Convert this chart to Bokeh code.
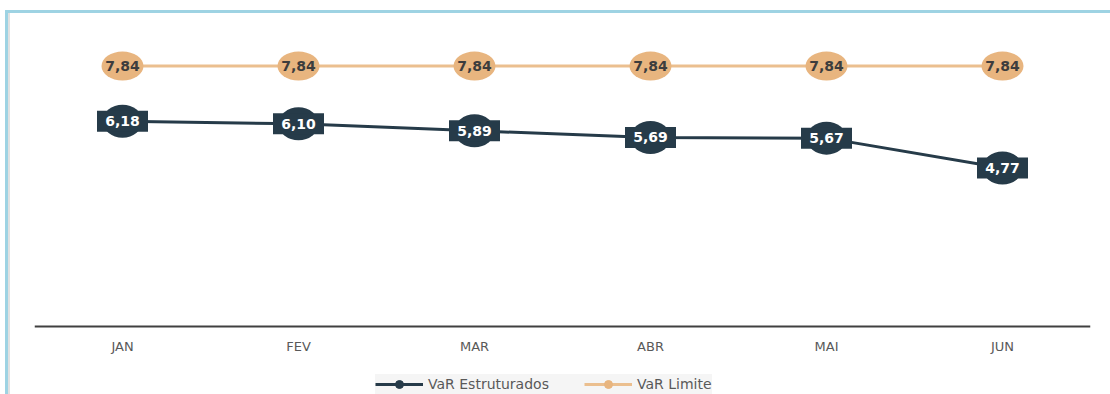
from bokeh.plotting import figure
from bokeh.models import Legend, LegendItem, ColumnDataSource, FactorRange, Range1d, Span
from bokeh.core.properties import value
from bokeh.embed import file_html
from bokeh.resources import INLINE

# Monthly VaR figures
months = ["JAN", "FEV", "MAR", "ABR", "MAI", "JUN"]
var_estruturados = [6.18, 6.10, 5.89, 5.69, 5.67, 4.77]
var_limite = [7.84, 7.84, 7.84, 7.84, 7.84, 7.84]

DARK = "#263b49"
ORANGE_LINE = "#ebbf8f"
ORANGE_FILL = "#e8b57f"
FONT = "DejaVu Sans"

# plotting area: values 0..9 span 299 px, plus a 68 px band below zero
# that holds the month labels and the legend
PLOT_PX = 299
BAND_PX = 68
Y_TOP = 9
Y_BOTTOM = -Y_TOP * BAND_PX / PLOT_PX


def fmt(v):
    return f"{v:.2f}".replace(".", ",")


src_e = ColumnDataSource(dict(m=months, v=var_estruturados, t=[fmt(v) for v in var_estruturados]))
src_l = ColumnDataSource(dict(m=months, v=var_limite, t=[fmt(v) for v in var_limite]))

p = figure(
    frame_width=1056, frame_height=PLOT_PX + BAND_PX,
    x_range=FactorRange(*months), y_range=Range1d(Y_BOTTOM, Y_TOP),
    output_backend="svg", toolbar_location=None,
    min_border_left=26, min_border_right=20, min_border_top=14, min_border_bottom=0,
    border_fill_color=None,
    styles={
        "margin-left": "5px",
        "margin-top": "10px",
        "border-top": "3px solid #9ed3e3",
        "border-left": "3px solid #9ed3e3",
        "box-shadow": "inset 2px 0 0 #e1e1e1",
    },
)
p.xgrid.visible = False
p.ygrid.visible = False
p.xaxis.visible = False
p.yaxis.visible = False
p.outline_line_color = None

# baseline at zero with the month names under it
p.add_layout(Span(location=0, dimension="width", line_color="#404040", line_width=2))
p.text(x=months, y=0, text=months, y_offset=20, text_align="center", text_baseline="middle",
       text_font=value(FONT), text_font_size="13px", text_color="#595959")

# VaR Limite series
l_line = p.line("m", "v", source=src_l, line_color=ORANGE_LINE, line_width=3)
l_dot = p.scatter("m", "v", source=src_l, size=9, fill_color=ORANGE_FILL, line_color=ORANGE_FILL)
p.ellipse("m", "v", source=src_l, width=42, height=29, width_units="screen", height_units="screen",
          fill_color=ORANGE_FILL, line_color=None)
p.text("m", "v", text="t", source=src_l, text_align="center", text_baseline="middle",
       text_font=value(FONT), text_font_style="bold", text_font_size="14px", text_color="#3d3d3d")

# VaR Estruturados series
e_line = p.line("m", "v", source=src_e, line_color=DARK, line_width=3)
e_dot = p.scatter("m", "v", source=src_e, size=9, fill_color=DARK, line_color=DARK)
p.ellipse("m", "v", source=src_e, width=40, height=33, width_units="screen", height_units="screen",
          fill_color=DARK, line_color=None)
p.rect("m", "v", source=src_e, width=51, height=21, width_units="screen", height_units="screen",
       fill_color=DARK, line_color=None)
p.text("m", "v", text="t", source=src_e, text_align="center", text_baseline="middle",
       text_font=value(FONT), text_font_style="bold", text_font_size="14px", text_color="white")

legend = Legend(
    items=[LegendItem(label="VaR Estruturados", renderers=[e_line, e_dot]),
           LegendItem(label="VaR Limite", renderers=[l_line, l_dot])],
    orientation="horizontal", location=(341, 0),
    glyph_width=48, glyph_height=20, label_standoff=5, spacing=35, padding=5, margin=0,
    label_text_font=FONT, label_text_font_size="14px", label_text_color="#595959",
    background_fill_color="#f5f5f5", background_fill_alpha=1, border_line_color=None,
)
p.add_layout(legend, "center")

open("out.html", "w").write(file_html(p, INLINE))
